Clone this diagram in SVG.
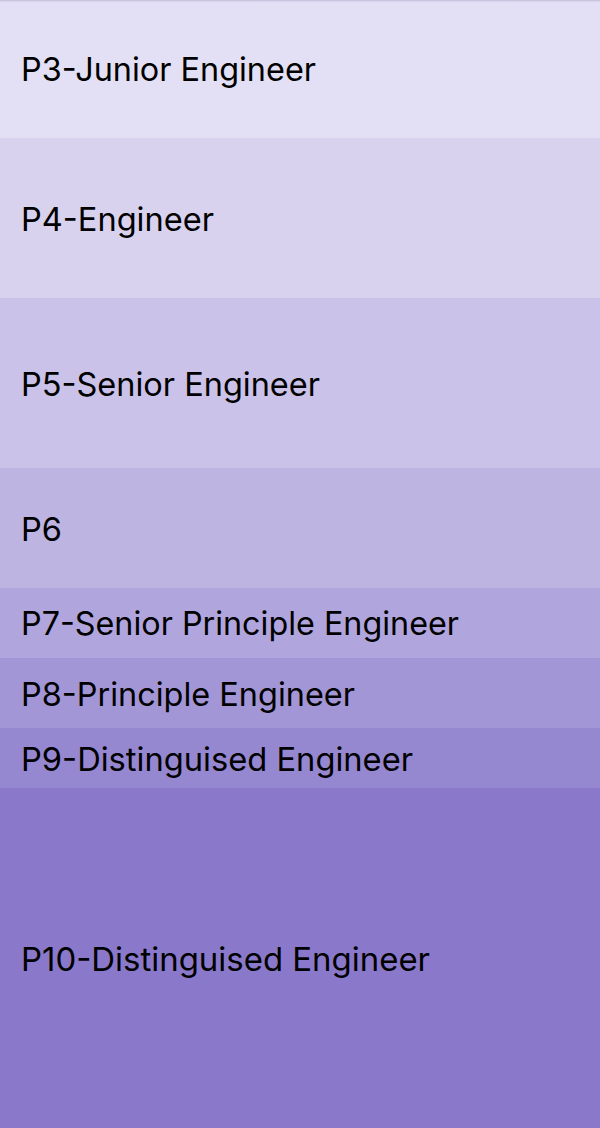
<svg xmlns="http://www.w3.org/2000/svg" width="600" height="1128" viewBox="0 0 600 1128">
<defs>
<linearGradient id="shadow" x1="0" y1="0" x2="0" y2="1">
<stop offset="0" stop-color="#b9b4d0" stop-opacity="0.9"/>
<stop offset="1" stop-color="#e3e0f5" stop-opacity="0"/>
</linearGradient>
<style>
text{font-family:Inter,"Noto Sans","Liberation Sans",sans-serif;font-size:32.5px;fill:#000}
</style>
</defs>
<g id="p3"><rect x="0" y="0" width="600" height="138" fill="#e3e0f5"/><text x="21" y="81" textLength="295" lengthAdjust="spacingAndGlyphs">P3-Junior Engineer</text></g>
<g id="p4"><rect x="0" y="138" width="600" height="160" fill="#d8d2ee"/><text x="21" y="231" textLength="193" lengthAdjust="spacingAndGlyphs">P4-Engineer</text></g>
<g id="p5"><rect x="0" y="298" width="600" height="170" fill="#cac2e8"/><text x="21" y="396" textLength="299" lengthAdjust="spacingAndGlyphs">P5-Senior Engineer</text></g>
<g id="p6"><rect x="0" y="468" width="600" height="120" fill="#bdb4e2"/><text x="21" y="541" textLength="41" lengthAdjust="spacingAndGlyphs">P6</text></g>
<g id="p7"><rect x="0" y="588" width="600" height="70" fill="#b0a5dd"/><text x="21" y="635" textLength="438" lengthAdjust="spacingAndGlyphs">P7-Senior Principle Engineer</text></g>
<g id="p8"><rect x="0" y="658" width="600" height="70" fill="#a396d7"/><text x="21" y="706" textLength="334" lengthAdjust="spacingAndGlyphs">P8-Principle Engineer</text></g>
<g id="p9"><rect x="0" y="728" width="600" height="60" fill="#9687d1"/><text x="21" y="771" textLength="392" lengthAdjust="spacingAndGlyphs">P9-Distinguised Engineer</text></g>
<g id="p10"><rect x="0" y="788" width="600" height="340" fill="#8a79cb"/><text x="21" y="971" textLength="409" lengthAdjust="spacingAndGlyphs">P10-Distinguised Engineer</text></g>
<rect x="0" y="0" width="600" height="3" fill="url(#shadow)"/>
<g id="connectors"/>
</svg>
